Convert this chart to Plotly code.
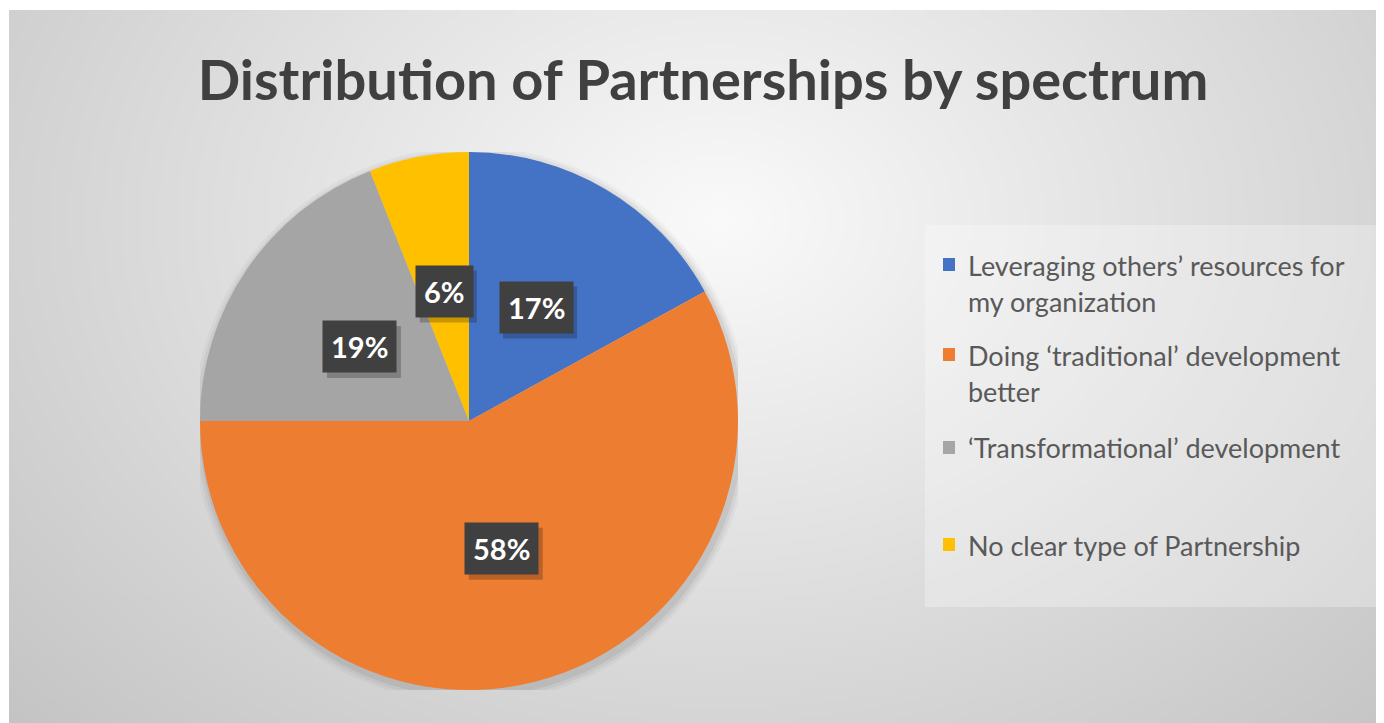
import base64, struct, zlib
import numpy as np
import plotly.graph_objects as go

# ---------------- data ----------------
categories = ["Leveraging others’ resources for my organization",
              "Doing ‘traditional’ development better",
              "‘Transformational’ development",
              "No clear type of Partnership"]
legend_lines = [["Leveraging others’ resources for", "my organization"],
                ["Doing ‘traditional’ development", "better"],
                ["‘Transformational’ development"],
                ["No clear type of Partnership"]]
shares = [17, 58, 19, 6]
slice_colors = ["#4472C4", "#ED7D31", "#A5A5A5", "#FFC000"]
title_text = "Distribution of Partnerships by spectrum"

# ---------------- geometry (pixels, page coords; page body margin = 8px) ----------------
W, H = 1384, 723
OFF = 8


def px(xp):
    return (xp - OFF) / W


def py(yp):
    return 1 - (yp - OFF) / H


cx, cy, R = 469, 421, 269
dom_x = [px(cx - R), px(cx + R)]
dom_y = [py(cy + R), py(cy - R)]

# ---------------- background gradient PNG ----------------
gw, gh = 346, 180
xs = (np.arange(gw) + 0.5) / gw * (W - 9) + 9
ys = (np.arange(gh) + 0.5) / gh * (H - 10) + 10
X, Y = np.meshgrid(xs, ys)
t = np.sqrt(((X - 720) / 800.0) ** 2 + ((Y - 220) / 600.0) ** 2)
val = np.clip(250 - 44 * t, 0, 255).astype(np.uint8)


def _chunk(tag, data):
    c = struct.pack(">I", len(data)) + tag + data
    return c + struct.pack(">I", zlib.crc32(tag + data) & 0xFFFFFFFF)


raw = b"".join(b"\x00" + bytes(row) for row in val)
png = (b"\x89PNG\r\n\x1a\n"
       + _chunk(b"IHDR", struct.pack(">IIBBBBB", gw, gh, 8, 0, 0, 0, 0))
       + _chunk(b"IDAT", zlib.compress(raw, 9))
       + _chunk(b"IEND", b""))
bg_uri = "data:image/png;base64," + base64.b64encode(png).decode()

fig = go.Figure()
fig.add_trace(go.Pie(
    labels=categories, values=shares, sort=False, direction="clockwise",
    rotation=0, marker=dict(colors=slice_colors, line=dict(width=0)),
    textinfo="none", showlegend=False, domain=dict(x=dom_x, y=dom_y),
    hovertemplate="%{label}: %{percent}<extra></extra>"))
fig.add_trace(go.Scatter(x=[None], y=[None], showlegend=False, hoverinfo="skip"))

annotations = []
shapes = []

# soft shadow behind pie
for off, a in [(9, 0.03), (6, 0.045), (3, 0.06)]:
    shapes.append(dict(type="circle", xref="x", yref="y", layer="below",
                       x0=-1 - off / R + 2 / R, x1=1 + off / R + 2 / R,
                       y0=-1 - off / R - 4 / R, y1=1 + off / R - 4 / R,
                       fillcolor=f"rgba(0,0,0,{a})", line=dict(width=0)))

# percentage labels in dark boxes (with drop shadow)
total = sum(shares)
cum = 0
for v in shares:
    mid = (cum + v / 2) / total * 2 * np.pi
    cum += v
    r = 0.49
    lx, ly = r * np.sin(mid), r * np.cos(mid)
    pct = round(v / total * 100)
    half_w = (40 + 17 * len(str(pct))) / 2
    shapes.append(dict(type="rect", xref="x", yref="y", layer="above",
                       xsizemode="pixel", ysizemode="pixel", xanchor=lx, yanchor=ly,
                       x0=-half_w + 4, x1=half_w + 4, y0=-26 - 5, y1=26 - 5,
                       fillcolor="rgba(0,0,0,0.22)", line=dict(width=0)))
    annotations.append(dict(x=lx, y=ly, xref="x", yref="y", text=f"<b>{pct}%</b>",
                            showarrow=False, bgcolor="#404040", borderpad=8,
                            font=dict(family="Lato", size=29, color="#ffffff")))

# legend box
shapes.append(dict(type="rect", xref="paper", yref="paper", layer="below",
                   x0=px(925), x1=px(1377), y0=py(607), y1=py(225),
                   fillcolor="rgba(255,255,255,0.28)", line=dict(width=0)))
item_y = [265, 355, 448, 545]
line_gap = 36
for lines, col, y0 in zip(legend_lines, slice_colors, item_y):
    shapes.append(dict(type="rect", xref="paper", yref="paper",
                       x0=px(943), x1=px(955), y0=py(y0 + 6), y1=py(y0 - 7),
                       fillcolor=col, line=dict(width=0)))
    for i, ln in enumerate(lines):
        annotations.append(dict(x=px(966), y=py(y0 + i * line_gap), xref="paper", yref="paper",
                                xanchor="left", yanchor="middle", text=ln, showarrow=False,
                                font=dict(family="Lato", size=27, color="#595959")))

fig.update_layout(
    width=W, height=H, margin=dict(l=0, r=0, t=0, b=0),
    paper_bgcolor="#ffffff", plot_bgcolor="rgba(0,0,0,0)",
    title=dict(text=f"<b>{title_text}</b>", x=px(703), xanchor="center",
               y=py(80), yanchor="middle", yref="container",
               font=dict(family="Lato", size=56, color="#404040")),
    xaxis=dict(domain=dom_x, range=[-1, 1], visible=False, fixedrange=True),
    yaxis=dict(domain=dom_y, range=[-1, 1], visible=False, fixedrange=True),
    images=[dict(source=bg_uri, xref="paper", yref="paper", x=px(9), y=py(10),
                 sizex=(W - 9) / W, sizey=(H - 10) / H, xanchor="left", yanchor="top",
                 sizing="stretch", layer="below")],
    shapes=shapes, annotations=annotations, showlegend=False,
)

fig.write_html("out.html")
